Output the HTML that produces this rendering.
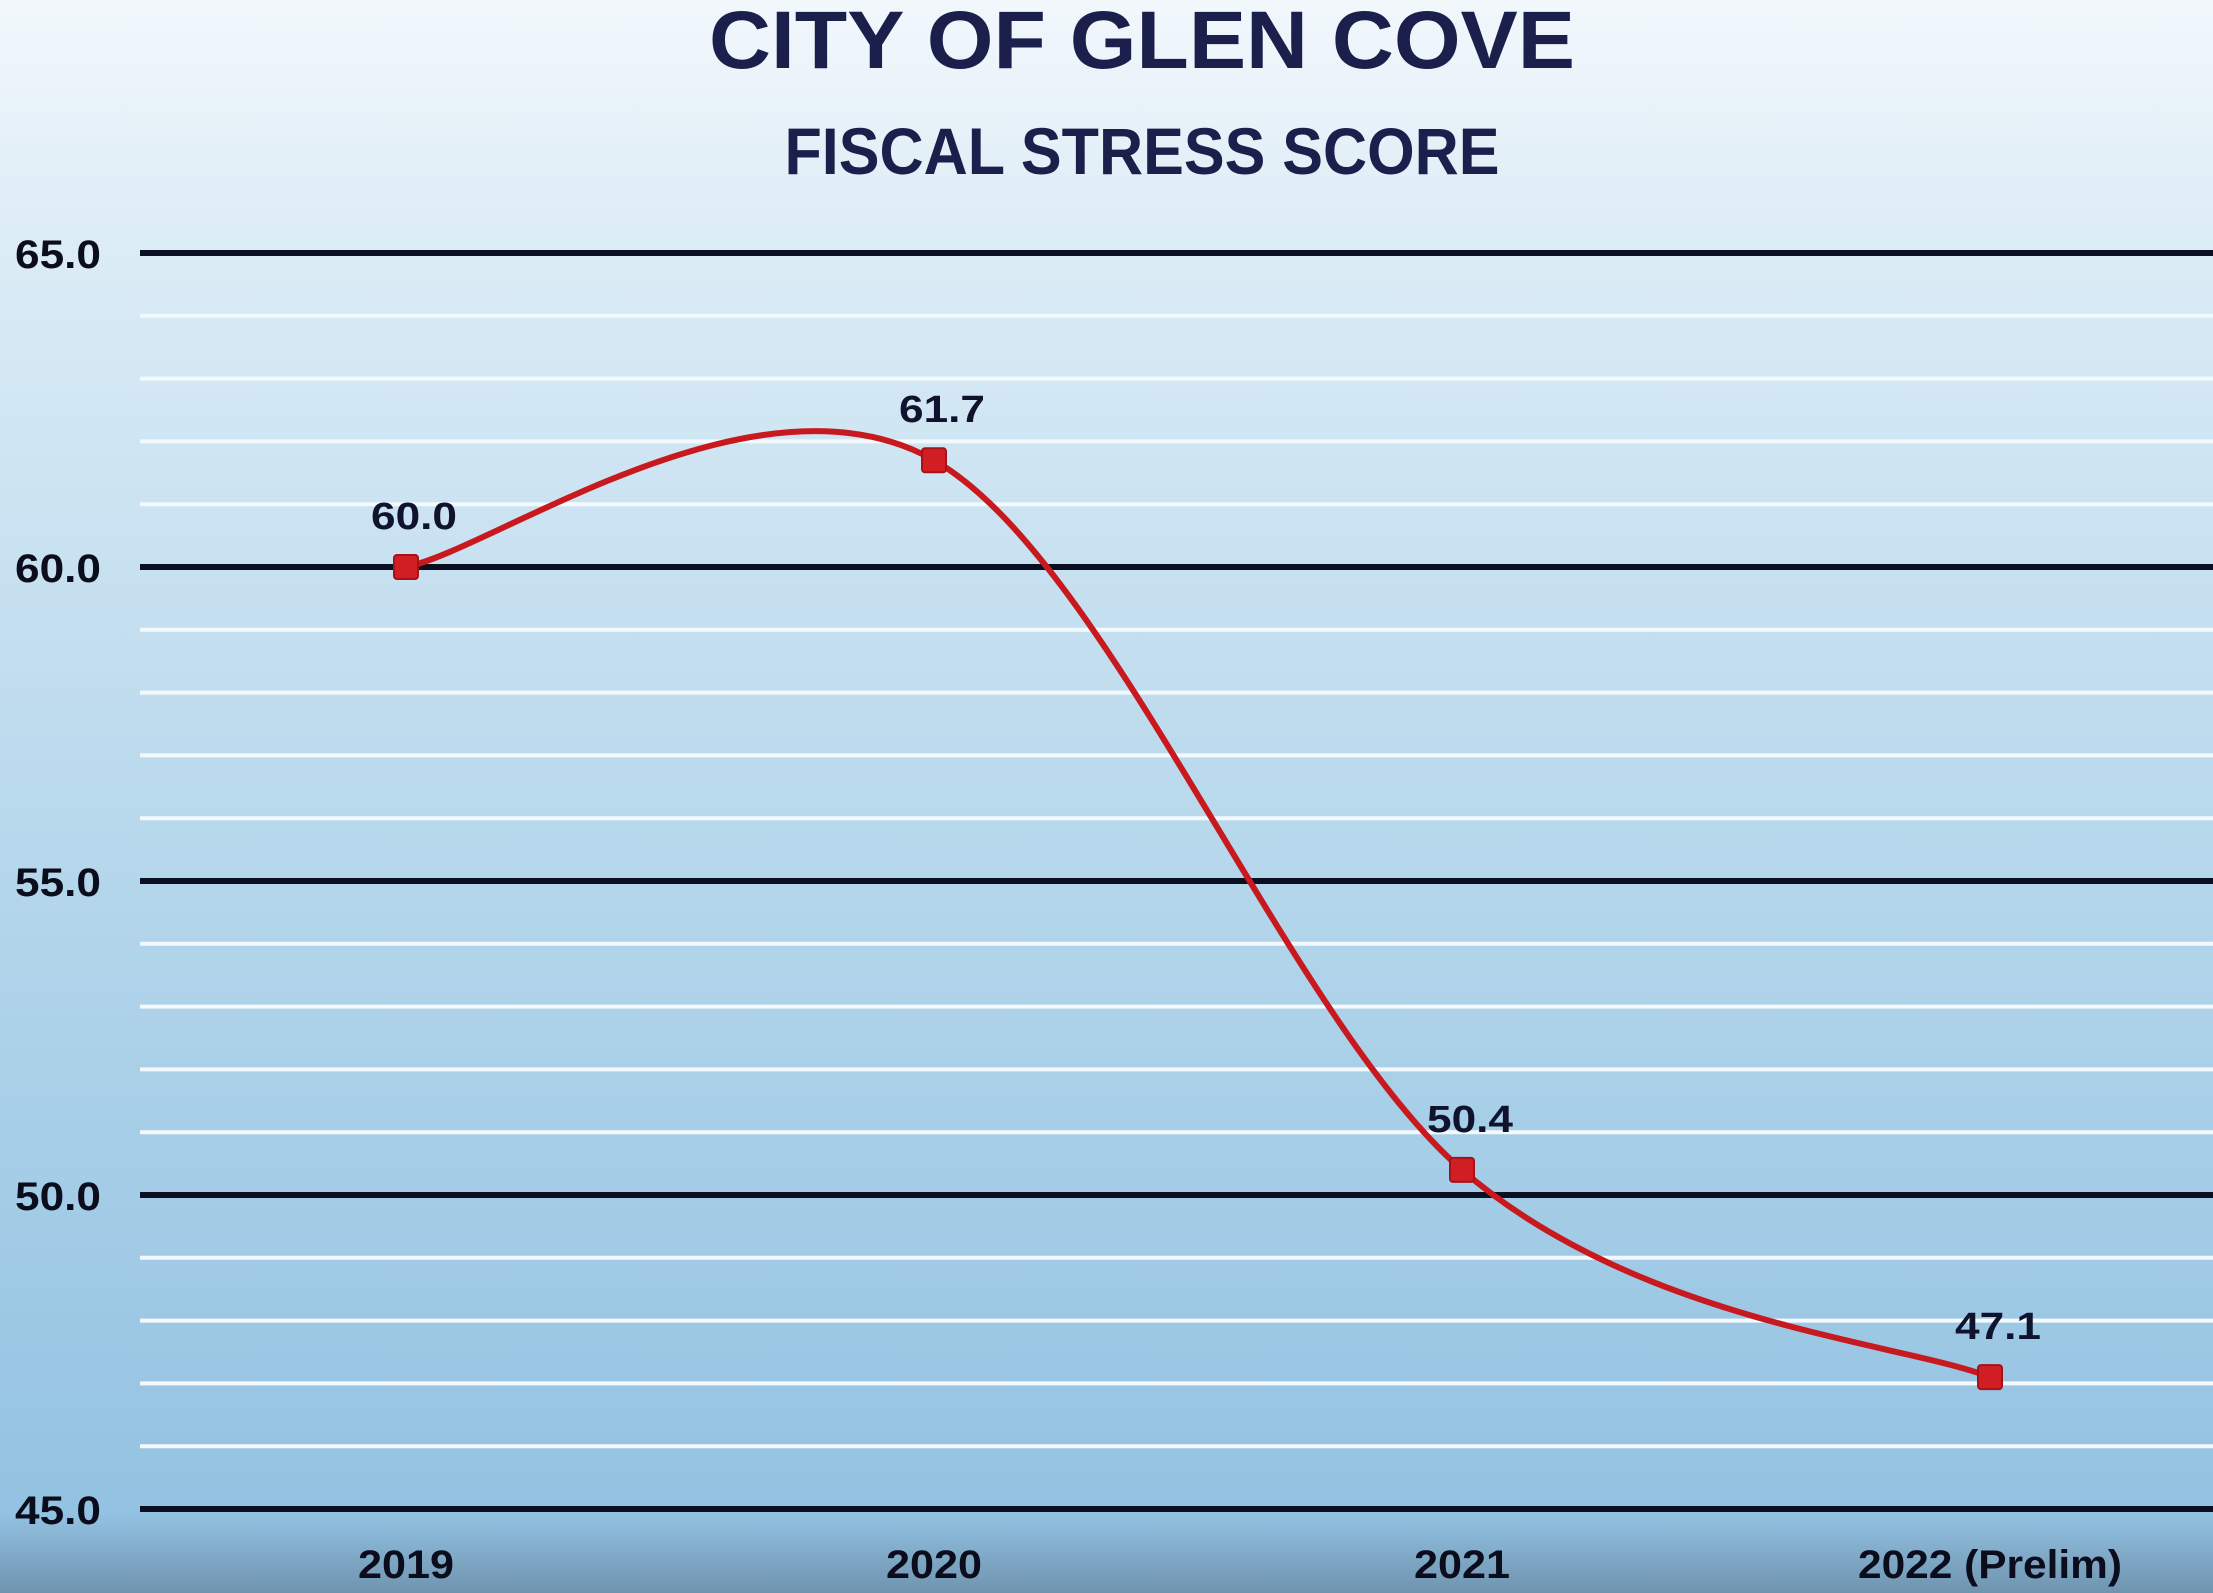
<!DOCTYPE html>
<html><head><meta charset="utf-8"><style>
html,body{margin:0;padding:0;width:2213px;height:1593px;overflow:hidden}
svg{display:block}
text{font-family:"Liberation Sans",sans-serif;font-weight:bold}
</style></head><body>
<svg id="chart" width="2213" height="1593" viewBox="0 0 2213 1593" xmlns="http://www.w3.org/2000/svg">
<defs>
<linearGradient id="bg" x1="0" y1="0" x2="0" y2="1">
<stop offset="0" stop-color="#f2f8fc"/>
<stop offset="0.15" stop-color="#dcecf6"/>
<stop offset="0.6" stop-color="#b0d4ea"/>
<stop offset="0.95" stop-color="#93c2e2"/>
<stop offset="1" stop-color="#6f94b0"/>
</linearGradient>
</defs>
<rect x="0" y="0" width="2213" height="1593" fill="url(#bg)"/>
<text x="1142" y="68" text-anchor="middle" font-size="82" fill="#1b1f4b" textLength="866" lengthAdjust="spacingAndGlyphs">CITY OF GLEN COVE</text>
<text x="1142" y="174" text-anchor="middle" font-size="66" fill="#1b1f4b" textLength="715" lengthAdjust="spacingAndGlyphs">FISCAL STRESS SCORE</text>
<g id="grid"></g>
<g id="yticks"></g>
<g id="xticks"></g>
<g id="series"></g>
</svg>
<script>
const categories = ["2019","2020","2021","2022 (Prelim)"];
const values = [60.0, 61.7, 50.4, 47.1];
const valueLabels = ["60.0","61.7","50.4","47.1"];
const yTicks = [45, 50, 55, 60, 65];
const yTickLabels = ["45.0","50.0","55.0","60.0","65.0"];
const yMin = 45, yMax = 65;
const NS = "http://www.w3.org/2000/svg";
const plotTop = 253, plotBottom = 1509, plotLeft = 140, plotRight = 2213;
const catX0 = 406, catStep = 528;
function yScale(v){ return plotBottom - (v - yMin) / (yMax - yMin) * (plotBottom - plotTop); }
function xScale(i){ return catX0 + i * catStep; }
function mk(tag, attrs, parent){ const e = document.createElementNS(NS, tag); for (const k in attrs) e.setAttribute(k, attrs[k]); parent.appendChild(e); return e; }
const grid = document.getElementById("grid");
for (let v = yMin; v <= yMax; v += 1) {
  if (v % 5 === 0) continue;
  const l = mk("line", {x1: plotLeft, x2: plotRight, y1: yScale(v), y2: yScale(v), stroke: "#f4f9fd", "stroke-width": 4}, grid);
  
  
}
const yt = document.getElementById("yticks");
yTicks.forEach((v, i) => {
  const l = mk("line", {x1: plotLeft, x2: plotRight, y1: yScale(v), y2: yScale(v), stroke: "#0c0f22", "stroke-width": 6}, grid);
  
  
  const t = mk("text", {x: 15, y: yScale(v) + 15, "font-size": 40, fill: "#0b0d1c", textLength: 86, lengthAdjust: "spacingAndGlyphs"}, yt);
  t.textContent = yTickLabels[i];
  
  
});
const xt = document.getElementById("xticks");
categories.forEach((c, i) => {
  const t = mk("text", {x: xScale(i), y: 1578, "text-anchor": "middle", "font-size": 40, fill: "#0b0d1c"}, xt);
  if (i === 3) { t.setAttribute("textLength", 264); t.setAttribute("lengthAdjust", "spacingAndGlyphs"); }
  else { t.setAttribute("textLength", 96); t.setAttribute("lengthAdjust", "spacingAndGlyphs"); }
  t.textContent = c;
  
  
});
const s = document.getElementById("series");
const pts = values.map((v, i) => [xScale(i), yScale(v)]);
let d = "M" + pts[0][0] + "," + pts[0][1];
for (let i = 0; i < pts.length - 1; i++) {
  const p0 = pts[Math.max(0, i - 1)], p1 = pts[i], p2 = pts[i + 1], p3 = pts[Math.min(pts.length - 1, i + 2)];
  const k = 1 / 6;
  const c1 = [p1[0] + (p2[0] - p0[0]) * k, p1[1] + (p2[1] - p0[1]) * k];
  const c2 = [p2[0] - (p3[0] - p1[0]) * k, p2[1] - (p3[1] - p1[1]) * k];
  d += " C" + c1[0] + "," + c1[1] + " " + c2[0] + "," + c2[1] + " " + p2[0] + "," + p2[1];
}
const path = mk("path", {d: d, fill: "none", stroke: "#c8191f", "stroke-width": 6}, s);


pts.forEach((p, i) => {
  const r = mk("rect", {x: p[0] - 12, y: p[1] - 12, width: 24, height: 24, rx: 3, fill: "#d01e24", stroke: "#a51218", "stroke-width": 2}, s);
  
  
  const t = mk("text", {x: p[0] + 8, y: p[1] - 38, "text-anchor": "middle", "font-size": 38, fill: "#10132e", textLength: 86, lengthAdjust: "spacingAndGlyphs"}, s);
  t.textContent = valueLabels[i];
  
  
});
</script>
</body></html>
